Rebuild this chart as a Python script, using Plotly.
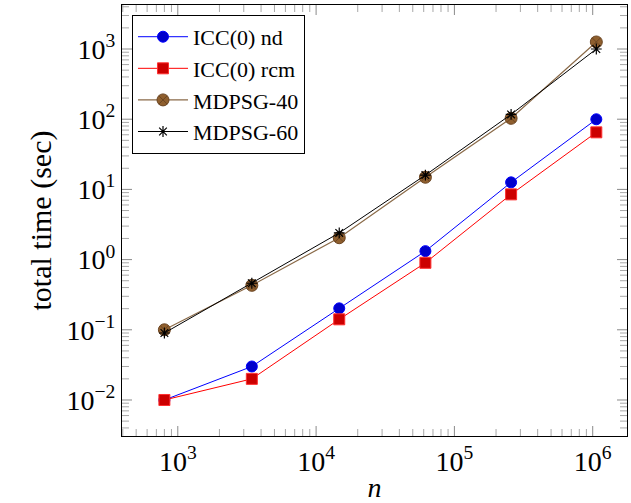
import plotly.graph_objects as go
import numpy as np

n_vals = [800, 3430, 14700, 61700, 257000, 1062000]
icc_nd = [0.010, 0.030, 0.202, 1.32, 12.6, 99.8]
icc_rcm = [0.010, 0.020, 0.141, 0.90, 8.5, 65.0]
mdpsg40 = [0.100, 0.43, 2.05, 14.9, 103.0, 1260.0]
mdpsg60 = [0.090, 0.46, 2.40, 16.0, 117.0, 1000.0]

x_ticks = [1e3, 1e4, 1e5, 1e6]
x_ticktext = ["10<sup>3</sup>", "10<sup>4</sup>", "10<sup>5</sup>", "10<sup>6</sup>"]
y_ticks = [1e-2, 1e-1, 1e0, 1e1, 1e2, 1e3]
y_ticktext = ["10<sup>−2</sup>", "10<sup>−1</sup>", "10<sup>0</sup>", "10<sup>1</sup>",
              "10<sup>2</sup>", "10<sup>3</sup>"]

FONT = "Liberation Serif"
XR = [np.log10(395), np.log10(1.77e6)]
YR = [-2.513, 3.627]
W, H = 631, 503
ML, MR, MT, MB = 122, 4, 5, 67
PW, PH = W - ML - MR, H - MT - MB

fig = go.Figure()
fig.add_trace(go.Scatter(x=n_vals, y=icc_nd, name="ICC(0) nd", mode="lines+markers",
                         line=dict(color="#0000ff", width=1),
                         marker=dict(symbol="circle", size=11, color="#0000cc",
                                     line=dict(color="#0000ff", width=1))))
fig.add_trace(go.Scatter(x=n_vals, y=icc_rcm, name="ICC(0) rcm", mode="lines+markers",
                         line=dict(color="#ff0000", width=1),
                         marker=dict(symbol="square", size=11, color="#cc0000",
                                     line=dict(color="#ff3030", width=1))))
fig.add_trace(go.Scatter(x=n_vals, y=mdpsg40, name="MDPSG-40", mode="lines+markers",
                         line=dict(color="#8a6a48", width=1.2),
                         marker=dict(symbol="circle-x", size=12, color="#8f5f2e",
                                     line=dict(color="#6b4522", width=1))))
fig.add_trace(go.Scatter(x=n_vals, y=mdpsg60, name="MDPSG-60", mode="lines+markers",
                         line=dict(color="#000000", width=1),
                         marker=dict(symbol="asterisk-open", size=9,
                                     line=dict(color="#000000", width=1.2))))

# tick marks (inside, on all four sides) drawn as paper-referenced shapes
shapes = []
def tick_positions(lo, hi):
    out = []
    for e in range(int(np.floor(lo)) - 1, int(np.ceil(hi)) + 1):
        for m in range(1, 10):
            v = np.log10(m * 10.0 ** e)
            if lo <= v <= hi:
                out.append((v, m == 1))
    return out

for v, major in tick_positions(*XR):
    f = (v - XR[0]) / (XR[1] - XR[0])
    L = (10 if major else 7) / PH
    col = "#8a8a8a" if major else "#a8a8a8"
    for y0, y1 in ((0, L), (1, 1 - L)):
        shapes.append(dict(type="line", xref="paper", yref="paper",
                           x0=f, x1=f, y0=y0, y1=y1,
                           line=dict(color=col, width=1), layer="above"))
for v, major in tick_positions(*YR):
    f = (v - YR[0]) / (YR[1] - YR[0])
    L = (10 if major else 7) / PW
    col = "#8a8a8a" if major else "#a8a8a8"
    for x0, x1 in ((0, L), (1, 1 - L)):
        shapes.append(dict(type="line", xref="paper", yref="paper",
                           y0=f, y1=f, x0=x0, x1=x1,
                           line=dict(color=col, width=1), layer="above"))

fig.update_xaxes(type="log", range=XR,
                 showline=True, linecolor="black", linewidth=1, mirror=True,
                 ticks="", showgrid=False, zeroline=False,
                 tickmode="array", tickvals=x_ticks, ticktext=x_ticktext,
                 tickfont=dict(family=FONT, size=28, color="black"),
                 title=dict(text="<i>n</i>", font=dict(family=FONT, size=28, color="black"),
                            standoff=2))
fig.update_yaxes(type="log", range=YR,
                 showline=True, linecolor="black", linewidth=1, mirror=True,
                 ticks="", showgrid=False, zeroline=False,
                 tickmode="array", tickvals=y_ticks, ticktext=y_ticktext,
                 tickfont=dict(family=FONT, size=28, color="black"),
                 title=dict(text="total time (sec)", font=dict(family=FONT, size=30, color="black"),
                            standoff=6))

fig.update_layout(
    width=W, height=H,
    margin=dict(l=ML, r=MR, t=MT, b=MB),
    paper_bgcolor="white", plot_bgcolor="white",
    font=dict(family=FONT, color="black"),
    shapes=shapes,
    showlegend=True,
    legend=dict(x=0.0198, y=0.977, xanchor="left", yanchor="top",
                bordercolor="black", borderwidth=1, bgcolor="white",
                font=dict(family=FONT, size=22, color="black"),
                tracegroupgap=0, itemwidth=50),
)

fig.write_html("out.html")
